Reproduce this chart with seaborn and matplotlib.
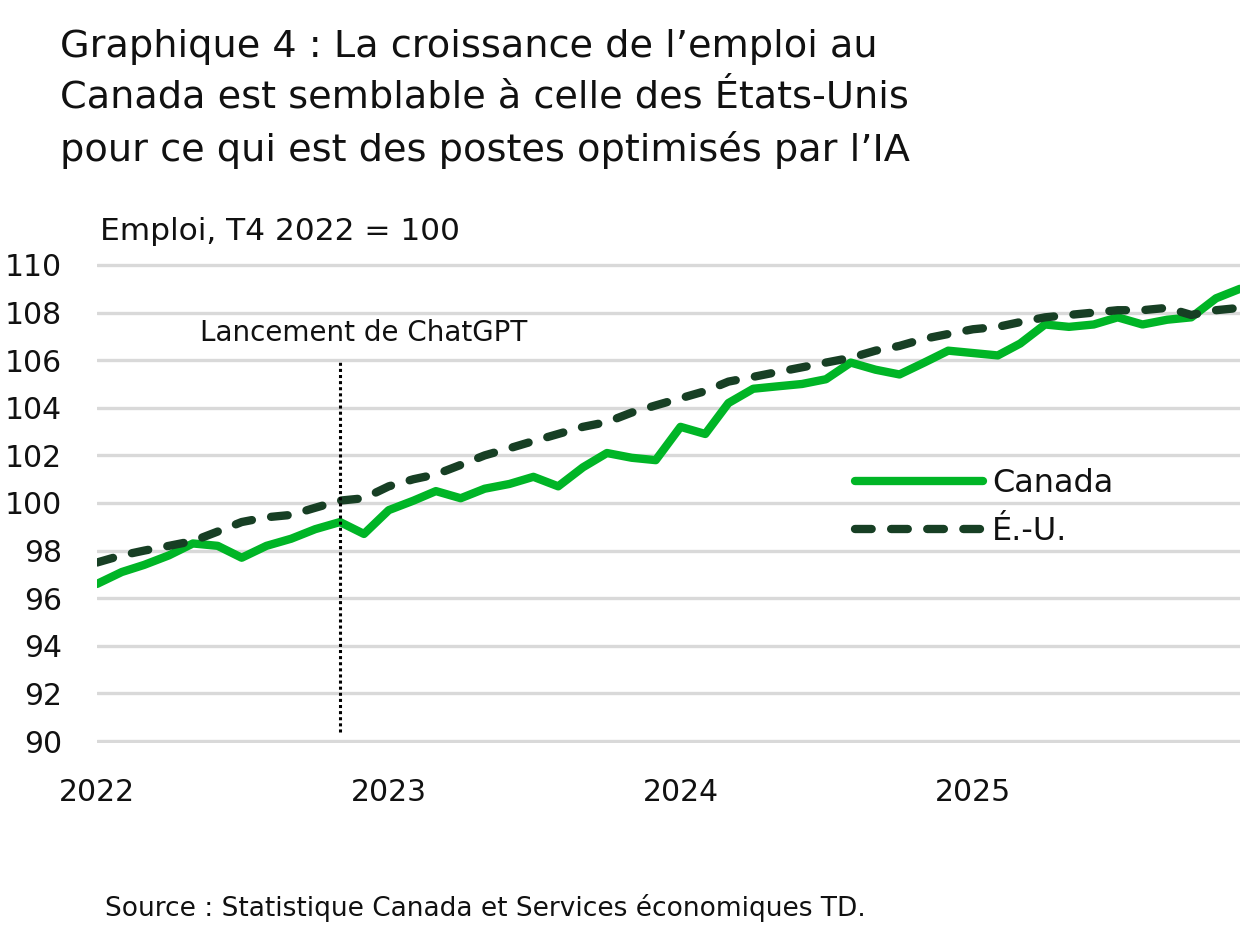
import pandas as pd
import numpy as np
import matplotlib
matplotlib.use('Agg')
import matplotlib.pyplot as plt
import matplotlib.dates as mdates
import seaborn as sns

# Monthly employment index, Jan 2022 - Dec 2025 (T4 2022 = 100)
dates = pd.date_range('2022-01-01', periods=48, freq='MS')

canada = [96.6, 97.1, 97.4, 97.8, 98.3, 98.2, 97.7, 98.2, 98.5, 98.9, 99.2, 98.7,
          99.7, 100.1, 100.5, 100.2, 100.6, 100.8, 101.1, 100.7, 101.5, 102.1, 101.9, 101.8,
          103.2, 102.9, 104.2, 104.8, 104.9, 105.0, 105.2, 105.9, 105.6, 105.4, 105.9, 106.4,
          106.3, 106.2, 106.7, 107.5, 107.4, 107.5, 107.8, 107.5, 107.7, 107.8, 108.6, 109.0]

usa = [97.5, 97.8, 98.0, 98.2, 98.4, 98.8, 99.2, 99.4, 99.5, 99.8, 100.1, 100.2,
       100.7, 101.0, 101.2, 101.6, 102.0, 102.3, 102.6, 102.9, 103.2, 103.4, 103.8, 104.1,
       104.4, 104.7, 105.1, 105.3, 105.5, 105.7, 105.9, 106.1, 106.4, 106.6, 106.9, 107.1,
       107.3, 107.4, 107.6, 107.8, 107.9, 108.0, 108.1, 108.1, 108.2, 107.9, 108.1, 108.2]

series_names = ['Canada', 'É.-U.']
colors = {'Canada': '#00B526', 'É.-U.': '#173F24'}
year_ticks = pd.to_datetime(['2022-01-01', '2023-01-01', '2024-01-01', '2025-01-01'])
y_ticks = list(range(90, 111, 2))
chatgpt_date = pd.Timestamp('2022-11-01')

df = pd.DataFrame({
    'date': list(dates) * 2,
    'value': canada + usa,
    'series': ['Canada'] * len(dates) + ['É.-U.'] * len(dates),
})

sns.set_theme(style='white')
plt.rcParams['font.family'] = ['DejaVu Sans']
plt.rcParams['lines.scale_dashes'] = False
plt.rcParams['lines.dash_capstyle'] = 'round'
plt.rcParams['lines.solid_capstyle'] = 'round'

fig = plt.figure(figsize=(12.4, 9.25), dpi=100)
ax = fig.add_axes([97 / 1240, 1 - 743.4 / 925, 1 - 97 / 1240, (743.4 - 262.6) / 925])

sns.lineplot(data=df, x='date', y='value', hue='series', style='series',
             hue_order=series_names, style_order=series_names,
             palette=colors, dashes={'Canada': '', 'É.-U.': (12, 14)},
             linewidth=6, legend=False, ax=ax)

# ChatGPT launch marker
ax.vlines(chatgpt_date, 90.38, 106.0, color='black', linewidth=2.2,
          linestyles=(0, (2.2, 2.2)), capstyle='butt', zorder=3)
ax.text(pd.Timestamp('2022-12-01'), 107.15, 'Lancement de ChatGPT',
        ha='center', va='center', fontsize=20, color='#111111')

ax.set_xlim(dates[0], dates[-1])
ax.set_ylim(89.9, 110.1)
ax.set_yticks(y_ticks)
ax.set_xticks(year_ticks)
ax.xaxis.set_major_formatter(mdates.DateFormatter('%Y'))
ax.tick_params(axis='both', length=0, labelsize=21.5, colors='#111111')
ax.tick_params(axis='x', pad=25)
ax.tick_params(axis='y', pad=25)
ax.grid(axis='y', color='#D9D9D9', linewidth=2.4)
ax.grid(axis='x', visible=False)
ax.set_axisbelow(True)
for s in ax.spines.values():
    s.set_visible(False)
ax.set_xlabel('')
ax.set_ylabel('')

handles = ax.lines[:2]
ax.legend(handles, series_names, loc='upper left', bbox_to_anchor=(0.663, 0.572),
          frameon=False, fontsize=23, handlelength=4.0, handletextpad=0.3,
          labelspacing=0.52, borderpad=0, borderaxespad=0, labelcolor='#111111')

fig.text(60 / 1240, 1 - 29 / 925,
         "Graphique 4 : La croissance de l’emploi au\n"
         "Canada est semblable à celle des États-Unis\n"
         "pour ce qui est des postes optimisés par l’IA",
         ha='left', va='top', fontsize=27.5, linespacing=1.52, color='#111111')
fig.text(100 / 1240, 1 - 232 / 925, 'Emploi, T4 2022 = 100',
         ha='left', va='center', fontsize=22.5, color='#111111')
fig.text(105 / 1240, 1 - 908 / 925, 'Source : Statistique Canada et Services économiques TD.',
         ha='left', va='center', fontsize=19, color='#111111')

fig.savefig('out.png', dpi=100, facecolor='white')
